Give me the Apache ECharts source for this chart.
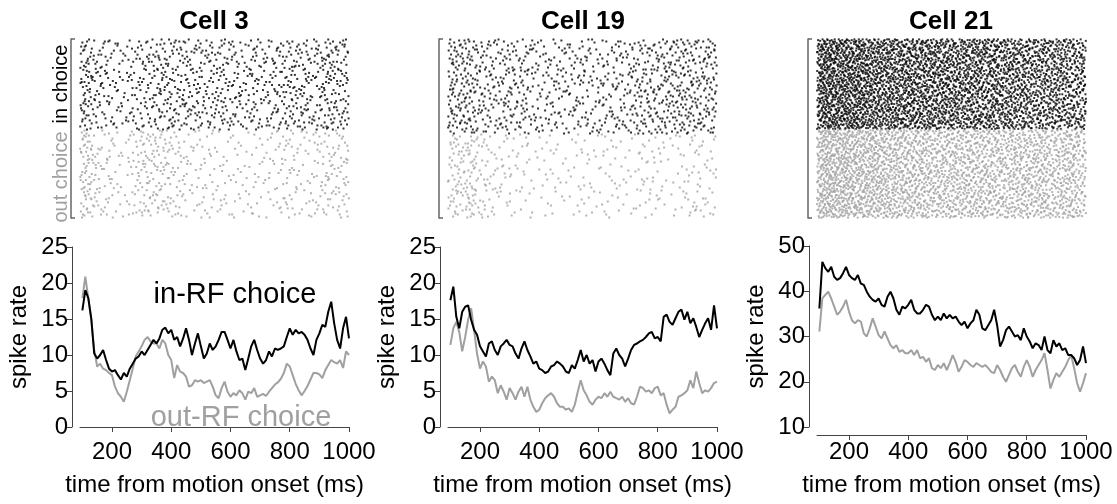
<!DOCTYPE html>
<html>
<head>
<meta charset="utf-8">
<script src="https://cdn.jsdelivr.net/npm/echarts@6/dist/echarts.min.js"></script>
<style>
  html, body { margin: 0; padding: 0; background: #fff; }
  #chart { width: 1117px; height: 504px; }
</style>
</head>
<body>
<div id="chart"></div>
<script>
// time bins (ms from motion onset), one value every 10 ms
const times = []
for (let t = 100; t <= 1000; t += 10) times.push(t)

const cellNames = ['Cell 3', 'Cell 19', 'Cell 21']
const xTicks = [200, 400, 600, 800, 1000]

// spike rate, in-RF choice (black) and out-RF choice (gray)
const cell3In = [16.2, 19.0, 17.9, 15.1, 10.2, 9.5, 10.0, 10.7, 9.3, 8.1, 7.7, 7.9, 7.2, 6.6, 7.5, 7.0, 8.1, 8.8, 9.5, 9.8,
  10.5, 10.0, 10.7, 11.4, 12.1, 11.6, 12.3, 13.5, 13.8, 13.0, 13.5, 12.1, 12.5, 11.2, 12.3, 13.7, 12.1, 10.0, 11.6, 13.0,
  11.2, 9.5, 10.2, 11.6, 10.7, 11.2, 12.1, 13.2, 13.2, 12.1, 10.9, 12.1, 10.5, 9.3, 9.5, 7.9, 9.5, 11.2, 12.1, 10.7,
  9.5, 8.8, 9.3, 10.5, 9.8, 10.9, 10.7, 10.9, 11.2, 12.5, 13.7, 12.8, 13.5, 13.0, 13.2, 12.8, 12.1, 10.9, 10.0, 12.1,
  13.0, 14.2, 13.9, 16.0, 17.4, 14.4, 12.1, 10.9, 13.7, 15.3, 12.3]
const cell3Out = [17.9, 20.9, 17.9, 14.9, 10.7, 8.4, 8.8, 8.1, 7.9, 7.5, 7.2, 5.6, 4.7, 4.2, 3.5, 4.9, 6.5, 8.1, 9.8, 10.5,
  11.2, 12.1, 12.5, 11.9, 11.6, 11.6, 10.9, 12.1, 11.6, 10.0, 9.3, 6.8, 8.6, 7.7, 7.5, 7.0, 5.6, 5.8, 6.5, 6.3,
  6.5, 6.1, 6.3, 6.5, 5.6, 4.4, 4.0, 5.4, 6.3, 4.9, 4.2, 4.7, 4.4, 5.1, 4.7, 3.8, 4.9, 4.7, 5.4, 4.2,
  4.4, 4.6, 4.3, 4.9, 5.4, 5.9, 6.2, 6.7, 7.5, 8.8, 8.4, 7.2, 6.0, 5.1, 4.4, 5.0, 5.7, 6.6, 7.5, 7.5,
  7.3, 6.8, 7.9, 8.6, 9.3, 9.0, 8.8, 9.3, 8.2, 10.5, 10.0]
const cell19In = [17.6, 19.5, 15.3, 13.7, 16.0, 16.7, 16.9, 14.9, 13.5, 12.8, 11.2, 10.5, 9.8, 11.6, 11.9, 10.7, 10.0, 11.2, 11.6, 12.1,
  11.4, 11.2, 10.2, 9.5, 10.9, 11.9, 10.7, 9.8, 8.8, 9.1, 8.1, 7.9, 7.5, 7.7, 8.4, 8.6, 9.1, 8.8, 8.4, 7.7,
  7.5, 8.6, 8.1, 9.3, 10.7, 9.1, 10.0, 8.8, 9.3, 7.7, 9.1, 9.5, 8.8, 7.9, 7.2, 10.2, 10.9, 10.0, 9.5, 8.4,
  9.5, 10.7, 11.4, 11.6, 11.9, 12.1, 12.5, 13.0, 13.2, 12.3, 12.5, 11.9, 15.3, 15.6, 14.6, 14.2, 15.1, 16.0, 16.3, 14.9,
  16.0, 14.4, 15.1, 13.9, 12.5, 13.5, 14.4, 15.1, 13.5, 16.9, 13.7]
const cell19Out = [11.4, 13.7, 14.6, 13.2, 10.5, 12.5, 14.9, 16.5, 13.5, 10.2, 8.1, 9.1, 8.4, 6.3, 7.0, 6.5, 4.7, 5.8, 4.9, 3.8,
  5.4, 4.7, 3.8, 4.9, 5.6, 4.2, 5.6, 3.8, 2.8, 2.1, 2.4, 3.3, 4.0, 4.4, 4.7, 4.2, 3.3, 2.8, 2.8, 2.4,
  2.6, 2.1, 3.1, 4.9, 6.5, 5.1, 4.4, 3.5, 3.1, 3.8, 4.2, 4.0, 4.7, 4.2, 4.9, 4.2, 4.0, 3.8, 4.2, 3.5,
  4.0, 3.3, 3.1, 4.2, 5.6, 5.4, 4.9, 5.1, 4.7, 5.4, 5.6, 4.4, 4.7, 3.1, 1.9, 2.4, 2.8, 4.2, 4.4, 4.7,
  5.1, 6.5, 5.4, 7.7, 6.1, 4.7, 5.1, 4.9, 5.4, 6.1, 6.3]
const cell21In = [36.2, 46.5, 45.1, 44.3, 45.4, 43.2, 42.5, 42.9, 44.0, 45.4, 43.6, 42.9, 42.5, 43.6, 41.7, 41.4, 39.9, 38.8, 38.1, 37.7,
  38.4, 37.0, 36.6, 38.8, 39.9, 38.4, 35.9, 34.8, 36.6, 36.2, 37.0, 38.1, 35.9, 35.1, 35.1, 35.9, 37.0, 36.6, 34.8, 33.6,
  34.4, 33.6, 35.1, 34.0, 34.8, 34.0, 34.4, 33.3, 32.5, 33.3, 31.8, 32.9, 33.6, 35.9, 34.8, 31.8, 31.4, 32.5, 33.6, 35.9,
  32.5, 27.8, 29.2, 31.4, 32.2, 31.1, 30.0, 30.3, 29.2, 31.8, 30.0, 28.9, 27.4, 28.5, 28.1, 27.0, 30.0, 27.0, 26.3, 29.2,
  27.8, 28.5, 27.0, 27.4, 25.9, 25.9, 25.2, 23.7, 24.8, 27.8, 24.1]
const cell21Out = [31.1, 38.4, 39.2, 39.9, 38.4, 36.6, 34.8, 35.5, 36.6, 38.1, 35.5, 33.6, 32.9, 33.6, 33.3, 30.7, 30.0, 31.8, 34.0, 32.2,
  30.3, 29.6, 31.1, 29.6, 28.1, 27.4, 28.1, 26.6, 27.0, 26.3, 26.3, 27.0, 25.9, 27.0, 25.2, 25.5, 24.4, 25.2, 23.0, 22.6,
  23.7, 23.0, 24.1, 22.6, 24.1, 25.9, 24.4, 22.2, 23.3, 24.8, 24.4, 23.7, 23.3, 24.1, 23.7, 23.3, 23.7, 23.0, 22.2, 21.9,
  23.7, 22.6, 21.1, 20.0, 21.5, 23.0, 23.7, 22.2, 21.1, 23.3, 24.8, 23.3, 21.1, 22.6, 23.7, 24.8, 26.3, 22.6, 18.5, 20.4,
  21.9, 21.1, 22.2, 23.3, 24.8, 25.9, 23.0, 19.7, 17.8, 19.7, 21.9]

// number of trials in the raster, [in choice, out choice]
const cell3Trials = [90, 87]
const cell19Trials = [95, 84]
const cell21Trials = [120, 118]

const yMins = [0, 0, 10]
const yMaxs = [25, 25, 50]
const yIntervals = [5, 5, 10]

const inRates = [cell3In, cell19In, cell21In]
const outRates = [cell3Out, cell19Out, cell21Out]
const trials = [cell3Trials, cell19Trials, cell21Trials]

const BLACK = '#000'
const GRAY = '#a0a0a0'
const FONT = "'Liberation Sans', Arial, sans-serif"

function rateAt(rates, t) {
  const f = (t - 100) / 10
  if (f <= 0) return rates[0]
  const i = Math.floor(f)
  if (i >= rates.length - 1) return rates[rates.length - 1]
  const w = f - i
  return rates[i] * (1 - w) + rates[i + 1] * w
}

// van der corput / halton point in base b
function halton(i, b) {
  let f = 1, r = 0
  while (i > 0) {
    f /= b
    r += f * (i % b)
    i = Math.floor(i / b)
  }
  return r
}

// raster dots: an even (halton) spread of candidate spikes over trials x time,
// kept where the read spike rate allows it
function rasterFrom(rates, nTrials, rowStart, seedStart) {
  const rmax = Math.max(...rates)
  const nCand = Math.round(nTrials * 0.908 * rmax)
  const pts = []
  for (let k = 0; k < nCand; k++) {
    const i = seedStart + k
    const t = 92 + 908 * halton(i, 2)
    const row = Math.floor(halton(i, 3) * nTrials)
    if (halton(i, 5) < rateAt(rates, t) / rmax) pts.push([t, rowStart + row + 0.5])
  }
  return pts
}

const lineLefts = [80, 448, 817]
const gridW = 269
const lineTop = [247, 247, 246]
const lineH = [180, 180, 181]
const titleX = [214, 583, 951]

const grid = []
const xAxis = []
const yAxis = []
const series = []
const graphic = []

for (let c = 0; c < 3; c++) {
  // raster grid
  grid.push({ left: lineLefts[c], top: 39, width: gridW, height: 179 })
  // rate grid
  grid.push({ left: lineLefts[c], top: lineTop[c], width: gridW, height: lineH[c] })

  const rg = c * 2
  const lg = c * 2 + 1
  const nIn = trials[c][0]
  const nOut = trials[c][1]

  xAxis.push({ gridIndex: rg, type: 'value', min: 92, max: 1000, show: false })
  yAxis.push({
    gridIndex: rg, type: 'value', min: 0, max: nIn + nOut, inverse: true, offset: 9,
    axisLine: { show: true, lineStyle: { color: '#666', width: 1.5 } },
    axisTick: { show: true, inside: true, length: 4, customValues: [0, nIn + nOut], lineStyle: { color: '#666', width: 1.5 } },
    axisLabel: { show: false },
    splitLine: { show: false }
  })

  xAxis.push({
    gridIndex: lg, type: 'value', min: 92, max: 1000, offset: 8,
    name: 'time from motion onset (ms)', nameLocation: 'middle', nameGap: 38,
    nameTextStyle: { fontFamily: FONT, fontSize: 24, color: '#000' },
    axisLine: { show: true, lineStyle: { color: '#444', width: 1 } },
    axisTick: { show: true, length: 5, customValues: xTicks, lineStyle: { color: '#444' } },
    axisLabel: { customValues: xTicks, formatter: v => String(v), fontFamily: FONT, fontSize: 24, color: '#000', margin: 5 },
    splitLine: { show: false }
  })
  yAxis.push({
    gridIndex: lg, type: 'value', min: yMins[c], max: yMaxs[c], interval: yIntervals[c], offset: 8,
    name: 'spike rate', nameLocation: 'middle', nameGap: 41,
    nameTextStyle: { fontFamily: FONT, fontSize: 24, color: '#000' },
    axisLine: { show: true, lineStyle: { color: '#444', width: 1 } },
    axisTick: { show: true, length: 5, lineStyle: { color: '#444' } },
    axisLabel: { fontFamily: FONT, fontSize: 24, color: '#000', margin: 4 },
    splitLine: { show: false }
  })

  series.push({
    type: 'scatter', xAxisIndex: rg, yAxisIndex: rg, symbol: 'rect', symbolSize: 2,
    itemStyle: { color: BLACK }, data: rasterFrom(inRates[c], nIn, 0, 17 + c * 5003), silent: true
  })
  series.push({
    type: 'scatter', xAxisIndex: rg, yAxisIndex: rg, symbol: 'rect', symbolSize: 2,
    itemStyle: { color: GRAY }, data: rasterFrom(outRates[c], nOut, nIn, 2411 + c * 7001), silent: true
  })
  series.push({
    type: 'line', xAxisIndex: lg, yAxisIndex: lg, showSymbol: false,
    lineStyle: { color: GRAY, width: 2 },
    data: times.map((t, i) => [t, outRates[c][i]])
  })
  series.push({
    type: 'line', xAxisIndex: lg, yAxisIndex: lg, showSymbol: false,
    lineStyle: { color: BLACK, width: 2 },
    data: times.map((t, i) => [t, inRates[c][i]])
  })

  graphic.push({
    type: 'text', x: titleX[c], y: 22,
    style: { text: cellNames[c], font: 'bold 26px ' + FONT, fill: '#000', align: 'center', verticalAlign: 'middle' }
  })
}

graphic.push({
  type: 'text', x: 61, y: 84, rotation: Math.PI / 2,
  style: { text: 'in choice', font: '20px ' + FONT, fill: BLACK, align: 'center', verticalAlign: 'middle' }
})
graphic.push({
  type: 'text', x: 61, y: 177, rotation: Math.PI / 2,
  style: { text: 'out choice', font: '20px ' + FONT, fill: GRAY, align: 'center', verticalAlign: 'middle' }
})
graphic.push({
  type: 'text', x: 235, y: 295,
  style: { text: 'in-RF choice', font: '29px ' + FONT, fill: BLACK, align: 'center', verticalAlign: 'middle' }
})
graphic.push({
  type: 'text', x: 241, y: 418,
  style: { text: 'out-RF choice', font: '29px ' + FONT, fill: GRAY, align: 'center', verticalAlign: 'middle' }
})

const chart = echarts.init(document.getElementById('chart'), null, { renderer: 'canvas' })
chart.setOption({
  animation: false,
  backgroundColor: '#fff',
  grid: grid,
  xAxis: xAxis,
  yAxis: yAxis,
  series: series,
  graphic: graphic
})
</script>
</body>
</html>
